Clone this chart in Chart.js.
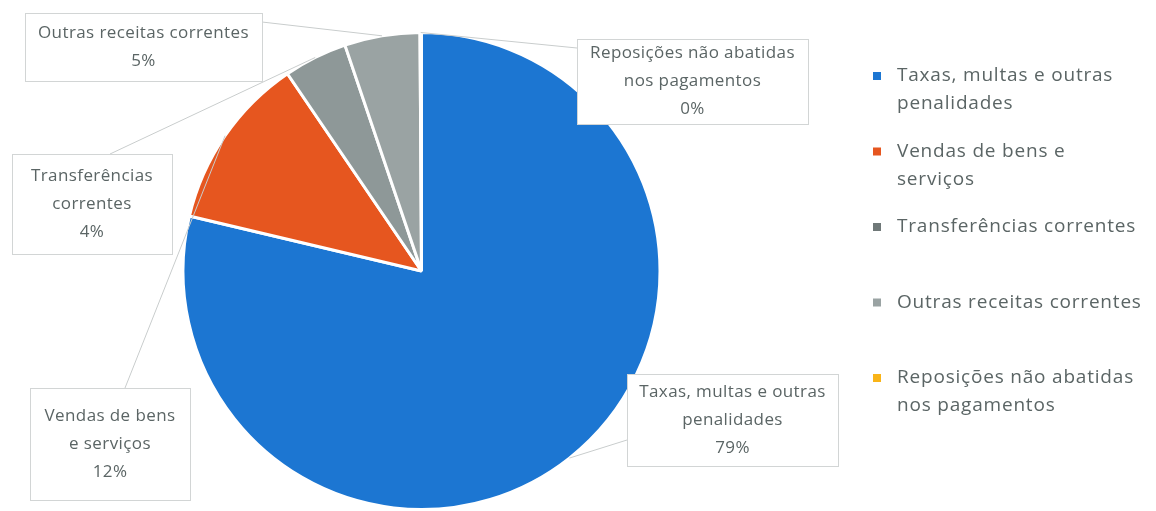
<!DOCTYPE html>
<html>
<head>
<meta charset="utf-8">
<script src="https://cdn.jsdelivr.net/npm/chart.js@4"></script>
<style>
  html, body { margin: 0; background: #fff; }
  #wrap { position: relative; width: 1156px; height: 511px; }
</style>
</head>
<body>
<div id="wrap"><canvas id="pie"></canvas></div>
<script>
// --- data ---
const categories = [
    'Taxas, multas e outras penalidades',
    'Vendas de bens e serviços',
    'Transferências correntes',
    'Outras receitas correntes',
    'Reposições não abatidas nos pagamentos'
];
const shares = [78.7, 11.8, 4.3, 5.1, 0.1];
const sliceColors = ['#1c76d2', '#e6561f', '#8e9898', '#9aa3a3', '#f9b418'];
const legendMarkerColors = ['#1c76d2', '#e6561f', '#6f7878', '#9aa3a3', '#f9b418'];

const textColor = '#5b6565';
const fontFamily = '"Open Sans", "DejaVu Sans", sans-serif';

// callout boxes (layout only): box rect + where the leader line meets it
const calloutBoxes = [
    { x: 627, y: 374, w: 211, h: 92, lx: 627, ly: 440 },
    { x: 30, y: 388, w: 160, h: 112, lx: 125, ly: 388 },
    { x: 12, y: 154, w: 160, h: 100, lx: 110, ly: 154 },
    { x: 25, y: 13, w: 237, h: 68, lx: 262, ly: 22 },
    { x: 577, y: 39, w: 231, h: 85, lx: 577, ly: 48 }
];

function percentText(i) {
    const total = shares.reduce((a, b) => a + b, 0);
    return Math.round(shares[i] / total * 100) + '%';
}

function wrapLines(ctx, text, maxWidth) {
    const words = text.split(' ');
    const lines = [];
    let line = '';
    words.forEach(w => {
        const test = line ? line + ' ' + w : w;
        if (line && ctx.measureText(test).width > maxWidth) {
            lines.push(line);
            line = w;
        } else {
            line = test;
        }
    });
    if (line) lines.push(line);
    return lines;
}

const calloutPlugin = {
    id: 'callouts',
    afterDatasetsDraw(chart) {
        const ctx = chart.ctx;
        const arcs = chart.getDatasetMeta(0).data;
        ctx.save();

        // data labels with leader lines
        arcs.forEach((arc, i) => {
            const p = arc.getProps(['x', 'y', 'startAngle', 'endAngle', 'outerRadius'], true);
            const mid = (p.startAngle + p.endAngle) / 2;
            const ax = p.x + Math.cos(mid) * p.outerRadius;
            const ay = p.y + Math.sin(mid) * p.outerRadius;
            const b = calloutBoxes[i];

            ctx.strokeStyle = '#c9cdcd';
            ctx.lineWidth = 1;
            ctx.beginPath();
            ctx.moveTo(ax, ay);
            ctx.lineTo(b.lx, b.ly);
            ctx.stroke();

            ctx.fillStyle = '#fff';
            ctx.fillRect(b.x, b.y, b.w, b.h);
            ctx.strokeStyle = '#d2d5d5';
            ctx.strokeRect(b.x + 0.5, b.y + 0.5, b.w, b.h);

            ctx.font = '17px ' + fontFamily;
            ctx.letterSpacing = '0.4px';
            ctx.fillStyle = textColor;
            ctx.textAlign = 'center';
            ctx.textBaseline = 'middle';
            const lines = wrapLines(ctx, categories[i], b.w - 20).concat([percentText(i)]);
            const lh = 28;
            const top = b.y + b.h / 2 - (lines.length - 1) * lh / 2;
            lines.forEach((l, k) => ctx.fillText(l, b.x + b.w / 2, top + k * lh));
        });

        // legend on the right, wrapped like the original
        ctx.font = '19px ' + fontFamily;
        ctx.letterSpacing = '0.8px';
        ctx.textAlign = 'left';
        ctx.textBaseline = 'middle';
        categories.forEach((cat, i) => {
            const slotTop = 62 + i * 75.5;
            ctx.fillStyle = legendMarkerColors[i];
            ctx.fillRect(873, slotTop + 10, 8, 8);
            ctx.fillStyle = textColor;
            wrapLines(ctx, cat, 248).forEach((l, k) => ctx.fillText(l, 897, slotTop + 14 + k * 28));
        });

        ctx.restore();
    }
};

new Chart(document.getElementById('pie'), {
    type: 'pie',
    data: {
        labels: categories,
        datasets: [{
            data: shares,
            backgroundColor: sliceColors,
            borderColor: '#ffffff',
            borderWidth: 3
        }]
    },
    options: {
        responsive: true,
        maintainAspectRatio: false,
        animation: false,
        layout: { padding: { left: 181, right: 494, top: 31, bottom: 0 } },
        plugins: {
            legend: { display: false },
            tooltip: { enabled: false }
        }
    },
    plugins: [calloutPlugin]
});
</script>
</body>
</html>
